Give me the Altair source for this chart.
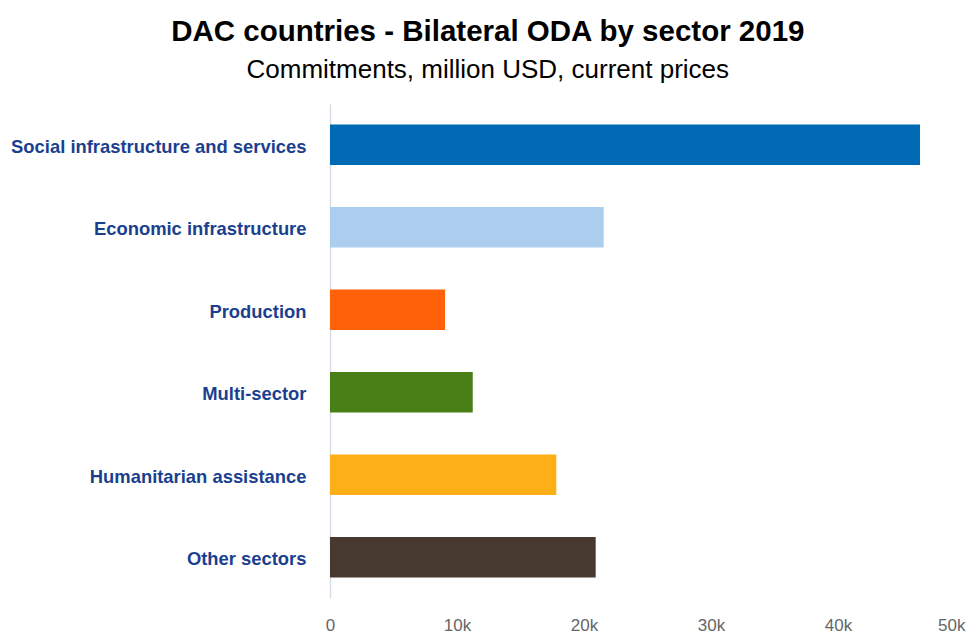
import altair as alt
import pandas as pd

sectors = [
    "Social infrastructure and services",
    "Economic infrastructure",
    "Production",
    "Multi-sector",
    "Humanitarian assistance",
    "Other sectors",
]
values = [46460, 21550, 9060, 11240, 17820, 20920]
colors = ["#0069b4", "#abcdee", "#ff6108", "#4a7f18", "#fcaf17", "#473830"]
x_ticks = [0, 10000, 20000, 30000, 40000, 50000]

df = pd.DataFrame({"sector": sectors, "value": values})

chart = (
    alt.Chart(df)
    .mark_bar()
    .encode(
        y=alt.Y(
            "sector:N",
            sort=sectors,
            title=None,
            scale=alt.Scale(paddingInner=0.51, paddingOuter=0.25),
            axis=alt.Axis(
                labelFont="Liberation Sans",
                labelFontWeight="bold",
                labelFontSize=18.4,
                labelColor="#1b3f8f",
                labelPadding=24,
                labelOffset=2,
                ticks=False,
                domain=True,
                domainColor="#d5dde6",
                domainWidth=1.5,
                grid=False,
                labelLimit=400,
            ),
        ),
        x=alt.X(
            "value:Q",
            title=None,
            scale=alt.Scale(domain=[0, 50000], nice=False),
            axis=alt.Axis(
                values=x_ticks,
                labelExpr="datum.value == 0 ? '0' : format(datum.value / 1000, 'd') + 'k'",
                labelAlign=alt.expr("datum.value == 50000 ? 'right' : 'center'"),
                labelFont="Liberation Sans",
                labelFontSize=17,
                labelColor="#666666",
                labelPadding=19,
                ticks=False,
                domain=False,
                grid=False,
            ),
        ),
        color=alt.Color(
            "sector:N",
            scale=alt.Scale(domain=sectors, range=colors),
            legend=None,
        ),
    )
    .properties(
        width=635,
        height=494,
        autosize=alt.AutoSizeParams(type="none"),
        padding={"left": 330, "top": 104, "right": 3, "bottom": 36},
        title=alt.TitleParams(
            text="DAC countries - Bilateral ODA by sector 2019",
            subtitle="Commitments, million USD, current prices",
            font="Liberation Sans",
            fontSize=29.5,
            fontWeight="bold",
            color="#000000",
            subtitleFont="Liberation Sans",
            subtitleFontSize=26,
            subtitleColor="#000000",
            subtitlePadding=10,
            anchor="middle",
            frame="bounds",
            offset=20,
        ),
    )
    .configure_view(stroke=None)
)

chart.save("out.html", embed_options={"renderer": "svg", "actions": False})
